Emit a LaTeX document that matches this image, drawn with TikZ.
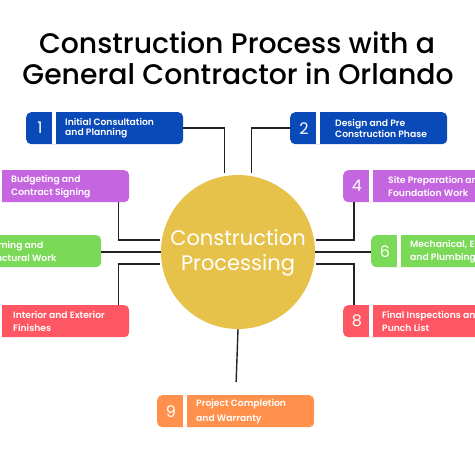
\documentclass[tikz,border=0pt]{standalone}
\usepackage{fontspec}
\setmainfont{Poppins}[BoldFont={Poppins SemiBold}]
\newfontfamily\poptitle{Poppins Medium}
\definecolor{cblue}{HTML}{0A49B8}
\definecolor{cpurple}{HTML}{C566E0}
\definecolor{cgreen}{HTML}{7AD957}
\definecolor{cred}{HTML}{FF5663}
\definecolor{corange}{HTML}{FF914D}
\definecolor{cgold}{HTML}{E6C24A}
\definecolor{linec}{HTML}{222222}
\newcommand\mkbox[7]{%
  \node[boxsty, fill=#4] (#1) at (#2,-#3) {};
  \fill[white] ([xshift=26pt]#1.north west) rectangle ([xshift=30pt]#1.south west);
  \node[numsty] (#1n) at ([xshift=14pt]#1.west) {#5};
  \node[txtsty] (#1t) at ([xshift=#7pt]#1.west) {#6};
}
\begin{document}
\begin{tikzpicture}[x=1pt,y=1pt,
  boxsty/.style={rounded corners=5pt, minimum width=157pt, minimum height=32pt, inner sep=0pt, anchor=north west, draw=none},
  numsty/.style={text=white, font=\fontsize{16}{16}\selectfont, inner sep=0pt},
  txtsty/.style={text=white, font=\bfseries\fontsize{9.2}{13}\selectfont, align=left, inner sep=0pt, anchor=west},
  titlesty/.style={font=\poptitle\fontsize{28.3}{30}\selectfont, anchor=base, inner sep=0pt, text=black},
  conn/.style={draw=linec, line width=1.4pt}]
\useasboundingbox (0,0) rectangle (475,-460);
\fill[white] (0,0) rectangle (475,-460);
\clip (0,0) rectangle (475,-460);

\node[titlesty] (t1) at (237,-54) {Construction Process with a};
\node[titlesty] (t2) at (238,-85) {General Contractor in Orlando};

\node[circle, fill=cgold, minimum size=154pt, inner sep=0pt] (c) at (238,-252) {};
\node[text=white, font=\fontsize{21}{25}\selectfont, align=center, inner sep=0pt] (ct) at (238,-253) {Construction\\Processing};

\mkbox{b1}{26}{112}{cblue}{1}{Initial Consultation\\[-2.5pt]and Planning}{39}
\mkbox{b2}{290}{112}{cblue}{2}{Design and Pre\\[-2.5pt]Construction Phase}{45}
\mkbox{b3}{-28}{170}{cpurple}{}{Budgeting and\\Contract Signing}{39}
\mkbox{b4}{343}{170}{cpurple}{4}{Site Preparation and\\Foundation Work}{45}
\mkbox{b5}{-56}{235}{cgreen}{}{Framing and\\Structural Work}{39}
\mkbox{b6}{371}{235}{cgreen}{6}{Mechanical, Electrical,\\and Plumbing Work}{39}
\mkbox{b7}{-28}{305}{cred}{}{Interior and Exterior\\Finishes}{41}
\mkbox{b8}{343}{305}{cred}{8}{Final Inspections and\\Punch List}{39}
\mkbox{b9}{157}{395}{corange}{9}{Project Completion\\[2pt]and Warranty}{39}

\draw[conn, shorten >=3pt] (b1.east) -| (c.100);
\draw[conn, shorten >=3pt] (b2.west) -| (c.80);
\draw[conn, shorten >=2pt] ([xshift=-11pt]b3.south east) |- (c.171);
\draw[conn, shorten >=2pt] ([xshift=11pt]b4.south west) |- (c.9);
\draw[conn] (c.west) -- (c.west -| b5.east);
\draw[conn] (c.east) -- (c.east -| b6.west);
\draw[conn, shorten <=2pt] (c.189) -| ([xshift=-11pt]b7.north east);
\draw[conn, shorten <=2pt] (c.-9) -| ([xshift=11pt]b8.north west);
\draw[conn, shorten >=13pt] (c.south) -- (b9.north);
\end{tikzpicture}
\end{document}
